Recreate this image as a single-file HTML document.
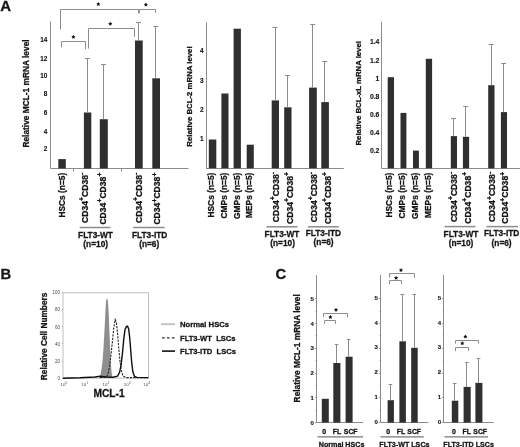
<!DOCTYPE html>
<html><head><meta charset="utf-8"><style>
html,body{margin:0;padding:0;background:#fff;}
svg{display:block;filter:blur(0.35px);}
text{font-family:"Liberation Sans", sans-serif;}
text[font-weight=bold]{stroke:#141414;stroke-width:0.28px;}
text.t{stroke-width:0.12px;}
</style></head><body>
<svg width="520" height="447" viewBox="0 0 520 447">
<rect width="520" height="447" fill="#fff"/>
<text x="0.30" y="11.10" font-size="15" font-weight="bold" text-anchor="start" fill="#141414" >A</text>
<text x="0.60" y="278.60" font-size="14.8" font-weight="bold" text-anchor="start" fill="#141414" >B</text>
<text x="275.60" y="278.60" font-size="14.8" font-weight="bold" text-anchor="start" fill="#141414" >C</text>
<line x1="50.5" y1="21.5" x2="50.5" y2="168.5" stroke="#8c8c8c" stroke-width="1" />
<line x1="50.5" y1="168.5" x2="188.5" y2="168.5" stroke="#8c8c8c" stroke-width="1" />
<line x1="73.5" y1="168.5" x2="73.5" y2="171.5" stroke="#8c8c8c" stroke-width="1" />
<line x1="121.5" y1="168.5" x2="121.5" y2="171.5" stroke="#8c8c8c" stroke-width="1" />
<text x="47.40" y="41.50" font-size="6.4" font-weight="bold" text-anchor="end" fill="#141414" class="t">14</text>
<text x="47.40" y="61.00" font-size="6.4" font-weight="bold" text-anchor="end" fill="#141414" class="t">12</text>
<text x="47.40" y="78.30" font-size="6.4" font-weight="bold" text-anchor="end" fill="#141414" class="t">10</text>
<text x="47.40" y="96.10" font-size="6.4" font-weight="bold" text-anchor="end" fill="#141414" class="t">8</text>
<text x="47.40" y="114.70" font-size="6.4" font-weight="bold" text-anchor="end" fill="#141414" class="t">6</text>
<text x="47.40" y="133.50" font-size="6.4" font-weight="bold" text-anchor="end" fill="#141414" class="t">4</text>
<text x="47.40" y="151.40" font-size="6.4" font-weight="bold" text-anchor="end" fill="#141414" class="t">2</text>
<rect x="58.30" y="159.10" width="7.50" height="9.40" fill="#2f2f2f"/>
<rect x="83.90" y="112.50" width="7.40" height="56.00" fill="#2f2f2f"/>
<line x1="87.5" y1="58.199999999999996" x2="87.5" y2="112.5" stroke="#8c8c8c" stroke-width="1" />
<line x1="84.8" y1="58.5" x2="89.8" y2="58.5" stroke="#8c8c8c" stroke-width="1" />
<rect x="99.80" y="119.20" width="8.00" height="49.30" fill="#2f2f2f"/>
<line x1="103.5" y1="64.1" x2="103.5" y2="119.2" stroke="#8c8c8c" stroke-width="1" />
<line x1="101.0" y1="64.5" x2="106.0" y2="64.5" stroke="#8c8c8c" stroke-width="1" />
<rect x="135.00" y="40.50" width="7.70" height="128.00" fill="#2f2f2f"/>
<line x1="138.5" y1="22.400000000000002" x2="138.5" y2="40.5" stroke="#8c8c8c" stroke-width="1" />
<line x1="136.04999999999998" y1="22.5" x2="141.04999999999998" y2="22.5" stroke="#8c8c8c" stroke-width="1" />
<rect x="152.30" y="78.30" width="7.70" height="90.20" fill="#2f2f2f"/>
<line x1="155.5" y1="26.7" x2="155.5" y2="78.3" stroke="#8c8c8c" stroke-width="1" />
<line x1="153.35" y1="26.5" x2="158.35" y2="26.5" stroke="#8c8c8c" stroke-width="1" />
<polyline points="60.5,29.5 60.5,9.5 138.5,9.5 138.5,13.5" fill="none" stroke="#8c8c8c" stroke-width="1"/>
<polygon points="98.30,2.00 98.95,3.31 100.39,3.52 99.35,4.54 99.59,5.98 98.30,5.30 97.01,5.98 97.25,4.54 96.21,3.52 97.65,3.31" fill="#141414"/>
<polyline points="139.5,12.9 139.5,9.5 155.5,9.5 155.5,12.9" fill="none" stroke="#8c8c8c" stroke-width="1"/>
<polygon points="145.90,2.40 146.55,3.71 147.99,3.92 146.95,4.94 147.19,6.38 145.90,5.70 144.61,6.38 144.85,4.94 143.81,3.92 145.25,3.71" fill="#141414"/>
<polyline points="88.5,48.6 88.5,28.5 134.5,28.5 134.5,36.9" fill="none" stroke="#8c8c8c" stroke-width="1"/>
<polygon points="110.30,21.60 110.95,22.91 112.39,23.12 111.35,24.14 111.59,25.58 110.30,24.90 109.01,25.58 109.25,24.14 108.21,23.12 109.65,22.91" fill="#141414"/>
<polyline points="61.5,47.3 61.5,41.5 85.5,41.5 85.5,49.2" fill="none" stroke="#8c8c8c" stroke-width="1"/>
<polygon points="73.40,34.80 74.05,36.11 75.49,36.32 74.45,37.34 74.69,38.78 73.40,38.10 72.11,38.78 72.35,37.34 71.31,36.32 72.75,36.11" fill="#141414"/>
<text transform="translate(28.80,93.50) rotate(-90)" font-size="8.35" font-weight="bold" text-anchor="middle" fill="#141414">Relative MCL-1 mRNA level</text>
<text transform="translate(64.60,172.80) rotate(-90)" font-size="8.35" font-weight="bold" text-anchor="end" fill="#141414">HSCs (n=5)</text>
<text transform="translate(88.10,172.60) rotate(-90)" font-size="8.6" font-weight="bold" text-anchor="end" fill="#141414">CD34<tspan font-size="6.88" dy="-3.61">+</tspan><tspan dy="3.61">CD38</tspan><tspan font-size="6.88" dy="-3.61">-</tspan></text>
<text transform="translate(105.60,172.60) rotate(-90)" font-size="8.6" font-weight="bold" text-anchor="end" fill="#141414">CD34<tspan font-size="6.88" dy="-3.61">+</tspan><tspan dy="3.61">CD38</tspan><tspan font-size="6.88" dy="-3.61">+</tspan></text>
<text transform="translate(142.00,172.60) rotate(-90)" font-size="8.6" font-weight="bold" text-anchor="end" fill="#141414">CD34<tspan font-size="6.88" dy="-3.61">+</tspan><tspan dy="3.61">CD38</tspan><tspan font-size="6.88" dy="-3.61">-</tspan></text>
<text transform="translate(160.30,172.60) rotate(-90)" font-size="8.6" font-weight="bold" text-anchor="end" fill="#141414">CD34<tspan font-size="6.88" dy="-3.61">+</tspan><tspan dy="3.61">CD38</tspan><tspan font-size="6.88" dy="-3.61">+</tspan></text>
<line x1="79.7" y1="227.5" x2="110.4" y2="227.5" stroke="#8c8c8c" stroke-width="1.5" />
<line x1="133.2" y1="227.5" x2="164.7" y2="227.5" stroke="#8c8c8c" stroke-width="1.5" />
<text x="95.50" y="237.50" font-size="8.3" font-weight="bold" text-anchor="middle" fill="#141414" >FLT3-WT</text>
<text x="95.70" y="246.90" font-size="8.3" font-weight="bold" text-anchor="middle" fill="#141414" >(n=10)</text>
<text x="149.70" y="237.50" font-size="8.3" font-weight="bold" text-anchor="middle" fill="#141414" >FLT3-ITD</text>
<text x="149.20" y="246.90" font-size="8.3" font-weight="bold" text-anchor="middle" fill="#141414" >(n=6)</text>
<line x1="206.5" y1="22.3" x2="206.5" y2="168.3" stroke="#8c8c8c" stroke-width="1" />
<line x1="206" y1="168.5" x2="343.8" y2="168.5" stroke="#8c8c8c" stroke-width="1" />
<text x="203.50" y="141.30" font-size="6.5" font-weight="bold" text-anchor="end" fill="#141414" class="t">1</text>
<text x="203.50" y="112.00" font-size="6.5" font-weight="bold" text-anchor="end" fill="#141414" class="t">2</text>
<text x="203.50" y="82.70" font-size="6.5" font-weight="bold" text-anchor="end" fill="#141414" class="t">3</text>
<text x="203.50" y="53.40" font-size="6.5" font-weight="bold" text-anchor="end" fill="#141414" class="t">4</text>
<rect x="208.80" y="139.50" width="7.50" height="28.80" fill="#2f2f2f"/>
<rect x="221.40" y="93.50" width="7.10" height="74.80" fill="#2f2f2f"/>
<rect x="233.60" y="28.70" width="7.30" height="139.60" fill="#2f2f2f"/>
<rect x="246.70" y="144.70" width="7.10" height="23.60" fill="#2f2f2f"/>
<rect x="271.70" y="100.40" width="7.30" height="67.90" fill="#2f2f2f"/>
<line x1="275.5" y1="27.2" x2="275.5" y2="100.4" stroke="#8c8c8c" stroke-width="1" />
<line x1="272.55" y1="27.5" x2="277.55" y2="27.5" stroke="#8c8c8c" stroke-width="1" />
<rect x="284.20" y="107.30" width="7.30" height="61.00" fill="#2f2f2f"/>
<line x1="287.5" y1="75.0" x2="287.5" y2="107.3" stroke="#8c8c8c" stroke-width="1" />
<line x1="285.05" y1="75.5" x2="290.05" y2="75.5" stroke="#8c8c8c" stroke-width="1" />
<rect x="309.10" y="87.60" width="7.70" height="80.70" fill="#2f2f2f"/>
<line x1="312.5" y1="24.5" x2="312.5" y2="87.6" stroke="#8c8c8c" stroke-width="1" />
<line x1="310.15000000000003" y1="24.5" x2="315.15000000000003" y2="24.5" stroke="#8c8c8c" stroke-width="1" />
<rect x="321.30" y="102.10" width="7.60" height="66.20" fill="#2f2f2f"/>
<line x1="324.5" y1="61.199999999999996" x2="324.5" y2="102.1" stroke="#8c8c8c" stroke-width="1" />
<line x1="322.3" y1="61.5" x2="327.3" y2="61.5" stroke="#8c8c8c" stroke-width="1" />
<text transform="translate(191.60,96.50) rotate(-90)" font-size="7.8" font-weight="bold" text-anchor="middle" fill="#141414">Relative BCL-2 mRNA level</text>
<text transform="translate(213.70,172.60) rotate(-90)" font-size="8.4" font-weight="bold" text-anchor="end" fill="#141414">HSCs (n=5)</text>
<text transform="translate(226.60,172.60) rotate(-90)" font-size="8.4" font-weight="bold" text-anchor="end" fill="#141414">CMPs (n=5)</text>
<text transform="translate(239.70,172.60) rotate(-90)" font-size="8.4" font-weight="bold" text-anchor="end" fill="#141414">GMPs (n=5)</text>
<text transform="translate(251.80,172.60) rotate(-90)" font-size="8.4" font-weight="bold" text-anchor="end" fill="#141414">MEPs (n=5)</text>
<text transform="translate(278.70,172.00) rotate(-90)" font-size="8.6" font-weight="bold" text-anchor="end" fill="#141414">CD34<tspan font-size="6.88" dy="-3.61">+</tspan><tspan dy="3.61">CD38</tspan><tspan font-size="6.88" dy="-3.61">-</tspan></text>
<text transform="translate(292.90,172.00) rotate(-90)" font-size="8.6" font-weight="bold" text-anchor="end" fill="#141414">CD34<tspan font-size="6.88" dy="-3.61">+</tspan><tspan dy="3.61">CD38</tspan><tspan font-size="6.88" dy="-3.61">+</tspan></text>
<text transform="translate(317.10,172.00) rotate(-90)" font-size="8.6" font-weight="bold" text-anchor="end" fill="#141414">CD34<tspan font-size="6.88" dy="-3.61">+</tspan><tspan dy="3.61">CD38</tspan><tspan font-size="6.88" dy="-3.61">-</tspan></text>
<text transform="translate(330.60,172.00) rotate(-90)" font-size="8.6" font-weight="bold" text-anchor="end" fill="#141414">CD34<tspan font-size="6.88" dy="-3.61">+</tspan><tspan dy="3.61">CD38</tspan><tspan font-size="6.88" dy="-3.61">+</tspan></text>
<line x1="266.5" y1="226.8" x2="297.5" y2="226.8" stroke="#8c8c8c" stroke-width="1.5" />
<line x1="308" y1="226.8" x2="338.8" y2="226.8" stroke="#8c8c8c" stroke-width="1.5" />
<text x="282.00" y="237.00" font-size="8.3" font-weight="bold" text-anchor="middle" fill="#141414" >FLT3-WT</text>
<text x="282.60" y="245.60" font-size="8.3" font-weight="bold" text-anchor="middle" fill="#141414" >(n=10)</text>
<text x="323.40" y="236.30" font-size="8.3" font-weight="bold" text-anchor="middle" fill="#141414" >FLT3-ITD</text>
<text x="323.60" y="245.20" font-size="8.3" font-weight="bold" text-anchor="middle" fill="#141414" >(n=6)</text>
<line x1="381.5" y1="21.7" x2="381.5" y2="168.3" stroke="#8c8c8c" stroke-width="1" />
<line x1="381.4" y1="168.5" x2="520" y2="168.5" stroke="#8c8c8c" stroke-width="1" />
<text x="379.40" y="152.84" font-size="6.8" font-weight="bold" text-anchor="end" fill="#141414" class="t">0.2</text>
<text x="379.40" y="134.78" font-size="6.8" font-weight="bold" text-anchor="end" fill="#141414" class="t">0.4</text>
<text x="379.40" y="116.72" font-size="6.8" font-weight="bold" text-anchor="end" fill="#141414" class="t">0.6</text>
<text x="379.40" y="98.66" font-size="6.8" font-weight="bold" text-anchor="end" fill="#141414" class="t">0.8</text>
<text x="379.40" y="80.60" font-size="6.8" font-weight="bold" text-anchor="end" fill="#141414" class="t">1</text>
<text x="379.40" y="62.54" font-size="6.8" font-weight="bold" text-anchor="end" fill="#141414" class="t">1.2</text>
<text x="379.40" y="44.48" font-size="6.8" font-weight="bold" text-anchor="end" fill="#141414" class="t">1.4</text>
<rect x="387.70" y="77.20" width="6.30" height="91.10" fill="#2f2f2f"/>
<rect x="400.50" y="112.90" width="5.90" height="55.40" fill="#2f2f2f"/>
<rect x="413.00" y="150.60" width="5.90" height="17.70" fill="#2f2f2f"/>
<rect x="425.80" y="58.80" width="6.30" height="109.50" fill="#2f2f2f"/>
<rect x="450.80" y="136.10" width="6.20" height="32.20" fill="#2f2f2f"/>
<line x1="453.5" y1="118.3" x2="453.5" y2="136.1" stroke="#8c8c8c" stroke-width="1" />
<line x1="451.09999999999997" y1="118.5" x2="456.09999999999997" y2="118.5" stroke="#8c8c8c" stroke-width="1" />
<rect x="462.90" y="136.80" width="6.20" height="31.50" fill="#2f2f2f"/>
<line x1="465.5" y1="106.89999999999999" x2="465.5" y2="136.8" stroke="#8c8c8c" stroke-width="1" />
<line x1="463.2" y1="106.5" x2="468.2" y2="106.5" stroke="#8c8c8c" stroke-width="1" />
<rect x="488.20" y="85.20" width="6.30" height="83.10" fill="#2f2f2f"/>
<line x1="491.5" y1="44.0" x2="491.5" y2="85.2" stroke="#8c8c8c" stroke-width="1" />
<line x1="488.55" y1="44.5" x2="493.55" y2="44.5" stroke="#8c8c8c" stroke-width="1" />
<rect x="500.90" y="112.10" width="6.10" height="56.20" fill="#2f2f2f"/>
<line x1="503.5" y1="63.9" x2="503.5" y2="112.1" stroke="#8c8c8c" stroke-width="1" />
<line x1="501.15" y1="63.5" x2="506.15" y2="63.5" stroke="#8c8c8c" stroke-width="1" />
<text transform="translate(360.80,93.30) rotate(-90)" font-size="7.77" font-weight="bold" text-anchor="middle" fill="#141414">Relative BCL-xL mRNA level</text>
<text transform="translate(392.20,172.60) rotate(-90)" font-size="8.4" font-weight="bold" text-anchor="end" fill="#141414">HSCs (n=5)</text>
<text transform="translate(405.10,172.60) rotate(-90)" font-size="8.4" font-weight="bold" text-anchor="end" fill="#141414">CMPs (n=5)</text>
<text transform="translate(417.80,172.60) rotate(-90)" font-size="8.4" font-weight="bold" text-anchor="end" fill="#141414">GMPs (n=5)</text>
<text transform="translate(430.50,172.60) rotate(-90)" font-size="8.4" font-weight="bold" text-anchor="end" fill="#141414">MEPs (n=5)</text>
<text transform="translate(457.00,171.80) rotate(-90)" font-size="8.6" font-weight="bold" text-anchor="end" fill="#141414">CD34<tspan font-size="6.88" dy="-3.61">+</tspan><tspan dy="3.61">CD38</tspan><tspan font-size="6.88" dy="-3.61">-</tspan></text>
<text transform="translate(470.70,171.80) rotate(-90)" font-size="8.6" font-weight="bold" text-anchor="end" fill="#141414">CD34<tspan font-size="6.88" dy="-3.61">+</tspan><tspan dy="3.61">CD38</tspan><tspan font-size="6.88" dy="-3.61">+</tspan></text>
<text transform="translate(495.40,171.80) rotate(-90)" font-size="8.6" font-weight="bold" text-anchor="end" fill="#141414">CD34<tspan font-size="6.88" dy="-3.61">+</tspan><tspan dy="3.61">CD38</tspan><tspan font-size="6.88" dy="-3.61">-</tspan></text>
<text transform="translate(508.30,171.80) rotate(-90)" font-size="8.6" font-weight="bold" text-anchor="end" fill="#141414">CD34<tspan font-size="6.88" dy="-3.61">+</tspan><tspan dy="3.61">CD38</tspan><tspan font-size="6.88" dy="-3.61">+</tspan></text>
<line x1="444.5" y1="226.6" x2="475.5" y2="226.6" stroke="#8c8c8c" stroke-width="1.5" />
<line x1="486.5" y1="226.6" x2="518" y2="226.6" stroke="#8c8c8c" stroke-width="1.5" />
<text x="461.00" y="237.00" font-size="8.3" font-weight="bold" text-anchor="middle" fill="#141414" >FLT3-WT</text>
<text x="461.00" y="246.00" font-size="8.3" font-weight="bold" text-anchor="middle" fill="#141414" >(n=10)</text>
<text x="501.70" y="236.20" font-size="8.3" font-weight="bold" text-anchor="middle" fill="#141414" >FLT3-ITD</text>
<text x="501.60" y="245.50" font-size="8.3" font-weight="bold" text-anchor="middle" fill="#141414" >(n=6)</text>
<rect x="63.0" y="292.8" width="85.4" height="85.30000000000001" fill="none" stroke="#b0b0b0" stroke-width="0.8"/>
<text x="60.00" y="294.40" font-size="4.5" font-weight="normal" text-anchor="end" fill="#4a4a4a" >100</text>
<line x1="61.8" y1="292.5" x2="63.0" y2="292.5" stroke="#888" stroke-width="0.6" />
<text x="60.00" y="311.46" font-size="4.5" font-weight="normal" text-anchor="end" fill="#4a4a4a" >80</text>
<line x1="61.8" y1="309.5" x2="63.0" y2="309.5" stroke="#888" stroke-width="0.6" />
<text x="60.00" y="328.52" font-size="4.5" font-weight="normal" text-anchor="end" fill="#4a4a4a" >60</text>
<line x1="61.8" y1="326.5" x2="63.0" y2="326.5" stroke="#888" stroke-width="0.6" />
<text x="60.00" y="345.58" font-size="4.5" font-weight="normal" text-anchor="end" fill="#4a4a4a" >40</text>
<line x1="61.8" y1="343.5" x2="63.0" y2="343.5" stroke="#888" stroke-width="0.6" />
<text x="60.00" y="362.64" font-size="4.5" font-weight="normal" text-anchor="end" fill="#4a4a4a" >20</text>
<line x1="61.8" y1="361.5" x2="63.0" y2="361.5" stroke="#888" stroke-width="0.6" />
<text x="60.00" y="379.70" font-size="4.5" font-weight="normal" text-anchor="end" fill="#4a4a4a" >0</text>
<line x1="61.8" y1="378.5" x2="63.0" y2="378.5" stroke="#888" stroke-width="0.6" />
<text x="63.90" y="385.60" font-size="4.4" font-weight="normal" text-anchor="middle" fill="#4a4a4a" >10<tspan font-size="3.2" dy="-1.9">0</tspan></text>
<text x="84.70" y="385.60" font-size="4.4" font-weight="normal" text-anchor="middle" fill="#4a4a4a" >10<tspan font-size="3.2" dy="-1.9">1</tspan></text>
<text x="105.90" y="385.60" font-size="4.4" font-weight="normal" text-anchor="middle" fill="#4a4a4a" >10<tspan font-size="3.2" dy="-1.9">2</tspan></text>
<text x="127.20" y="385.60" font-size="4.4" font-weight="normal" text-anchor="middle" fill="#4a4a4a" >10<tspan font-size="3.2" dy="-1.9">3</tspan></text>
<text x="146.60" y="385.60" font-size="4.4" font-weight="normal" text-anchor="middle" fill="#4a4a4a" >10<tspan font-size="3.2" dy="-1.9">4</tspan></text>
<g transform="translate(0,0.6)">
<path d="M99.6,377.4 L101.0,372 L102.4,362 L103.6,346 L104.8,324 L105.7,305 L106.2,299.5 L106.8,297.8 L107.5,298.6 L108.1,303 L108.7,313 L109.3,328 L109.9,343 L110.6,358 L111.4,370 L112.4,377.4 Z" fill="#8e8e8e"/>
<path d="M100,377 L106,376.5 L108,374 L109.5,366 L111,354 L112.5,340 L113.8,327 L115.2,319 L116.4,322 L117.6,333 L118.8,348 L120.0,361 L121.3,370 L123,375.5 L126,377 L148,377" fill="none" stroke="#222" stroke-width="1.1" stroke-dasharray="2.2,1.2"/>
<path d="M63,377.6 L80,377.2 L95,376.4 L100,375.6 L106,376.4 L113,376.6 L117.5,375.5 L119.5,372 L121,365 L122.5,352 L123.8,338 L125.0,329 L126.3,326 L127.5,325.6 L128.6,328 L129.6,336 L130.6,348 L131.6,361 L132.8,371 L134.5,375.8 L137,376.8 L148.4,377" fill="none" stroke="#111" stroke-width="1.4"/>
</g>
<text transform="translate(46.80,336.40) rotate(-90)" font-size="8.3" font-weight="bold" text-anchor="middle" fill="#141414">Relative Cell Numbers</text>
<text x="109.10" y="397.00" font-size="10.2" font-weight="bold" text-anchor="middle" fill="#141414" >MCL-1</text>
<line x1="161.2" y1="324.2" x2="175.0" y2="324.2" stroke="#bcbcbc" stroke-width="1.8" />
<line x1="162.0" y1="337.8" x2="175.0" y2="337.8" stroke="#333" stroke-width="1.3" stroke-dasharray="2.7,2.2"/>
<line x1="162.0" y1="351.1" x2="175.0" y2="351.1" stroke="#111" stroke-width="1.6" />
<text x="180.00" y="326.90" font-size="7.7" font-weight="bold" text-anchor="start" fill="#141414" >Normal HSCs</text>
<text x="180.00" y="340.90" font-size="7.6" font-weight="bold" text-anchor="start" fill="#141414" >FLT3-WT&#160; LSCs</text>
<text x="180.00" y="353.90" font-size="7.6" font-weight="bold" text-anchor="start" fill="#141414" >FLT3-ITD&#160; LSCs</text>
<line x1="316.5" y1="275.2" x2="316.5" y2="422.6" stroke="#8c8c8c" stroke-width="1" />
<line x1="316.3" y1="422.5" x2="363" y2="422.5" stroke="#8c8c8c" stroke-width="1" />
<text x="313.80" y="424.70" font-size="6.0" font-weight="bold" text-anchor="end" fill="#141414" class="t">0</text>
<line x1="314.8" y1="422.5" x2="316.3" y2="422.5" stroke="#8c8c8c" stroke-width="0.8" />
<line x1="315.3" y1="410.5" x2="316.3" y2="410.5" stroke="#8c8c8c" stroke-width="0.6" />
<text x="313.80" y="399.90" font-size="6.0" font-weight="bold" text-anchor="end" fill="#141414" class="t">1</text>
<line x1="314.8" y1="397.5" x2="316.3" y2="397.5" stroke="#8c8c8c" stroke-width="0.8" />
<line x1="315.3" y1="385.5" x2="316.3" y2="385.5" stroke="#8c8c8c" stroke-width="0.6" />
<text x="313.80" y="375.10" font-size="6.0" font-weight="bold" text-anchor="end" fill="#141414" class="t">2</text>
<line x1="314.8" y1="373.5" x2="316.3" y2="373.5" stroke="#8c8c8c" stroke-width="0.8" />
<line x1="315.3" y1="360.5" x2="316.3" y2="360.5" stroke="#8c8c8c" stroke-width="0.6" />
<text x="313.80" y="350.30" font-size="6.0" font-weight="bold" text-anchor="end" fill="#141414" class="t">3</text>
<line x1="314.8" y1="348.5" x2="316.3" y2="348.5" stroke="#8c8c8c" stroke-width="0.8" />
<line x1="315.3" y1="335.5" x2="316.3" y2="335.5" stroke="#8c8c8c" stroke-width="0.6" />
<text x="313.80" y="325.50" font-size="6.0" font-weight="bold" text-anchor="end" fill="#141414" class="t">4</text>
<line x1="314.8" y1="323.5" x2="316.3" y2="323.5" stroke="#8c8c8c" stroke-width="0.8" />
<line x1="315.3" y1="311.5" x2="316.3" y2="311.5" stroke="#8c8c8c" stroke-width="0.6" />
<text x="313.80" y="300.70" font-size="6.0" font-weight="bold" text-anchor="end" fill="#141414" class="t">5</text>
<line x1="314.8" y1="298.5" x2="316.3" y2="298.5" stroke="#8c8c8c" stroke-width="0.8" />
<rect x="321.80" y="398.80" width="7.00" height="23.80" fill="#2f2f2f"/>
<rect x="333.30" y="363.00" width="7.10" height="59.60" fill="#2f2f2f"/>
<line x1="336.5" y1="344.7" x2="336.5" y2="363.0" stroke="#8c8c8c" stroke-width="1" />
<line x1="334.75" y1="344.5" x2="338.35" y2="344.5" stroke="#8c8c8c" stroke-width="1" />
<rect x="345.60" y="356.70" width="7.00" height="65.90" fill="#2f2f2f"/>
<line x1="348.5" y1="339.3" x2="348.5" y2="356.7" stroke="#8c8c8c" stroke-width="1" />
<line x1="347.0" y1="339.5" x2="350.6" y2="339.5" stroke="#8c8c8c" stroke-width="1" />
<polyline points="323.5,317.2 323.5,313.5 347.5,313.5 347.5,317.2" fill="none" stroke="#8c8c8c" stroke-width="1"/>
<polygon points="336.00,307.70 336.65,309.01 338.09,309.22 337.05,310.24 337.29,311.68 336.00,311.00 334.71,311.68 334.95,310.24 333.91,309.22 335.35,309.01" fill="#141414"/>
<polyline points="324.5,323.9 324.5,320.5 335.5,320.5 335.5,323.9" fill="none" stroke="#8c8c8c" stroke-width="1"/>
<polygon points="330.40,315.00 331.05,316.31 332.49,316.52 331.45,317.54 331.69,318.98 330.40,318.30 329.11,318.98 329.35,317.54 328.31,316.52 329.75,316.31" fill="#141414"/>
<text x="324.20" y="434.10" font-size="6.9" font-weight="bold" text-anchor="middle" fill="#141414" >0</text>
<text x="336.90" y="434.10" font-size="6.9" font-weight="bold" text-anchor="middle" fill="#141414" >FL</text>
<text x="350.70" y="434.10" font-size="6.9" font-weight="bold" text-anchor="middle" fill="#141414" >SCF</text>
<line x1="317.5" y1="436.9" x2="363.1" y2="436.9" stroke="#777" stroke-width="1.1" />
<text x="341.60" y="447.30" font-size="7.15" font-weight="bold" text-anchor="middle" fill="#141414" >Normal HSCs</text>
<line x1="380.5" y1="274.9" x2="380.5" y2="422.6" stroke="#8c8c8c" stroke-width="1" />
<line x1="380.4" y1="422.5" x2="428.5" y2="422.5" stroke="#8c8c8c" stroke-width="1" />
<text x="377.80" y="423.80" font-size="6.0" font-weight="bold" text-anchor="end" fill="#141414" class="t">0</text>
<line x1="378.9" y1="422.5" x2="380.4" y2="422.5" stroke="#8c8c8c" stroke-width="0.8" />
<line x1="379.4" y1="410.5" x2="380.4" y2="410.5" stroke="#8c8c8c" stroke-width="0.6" />
<text x="377.80" y="399.00" font-size="6.0" font-weight="bold" text-anchor="end" fill="#141414" class="t">1</text>
<line x1="378.9" y1="397.5" x2="380.4" y2="397.5" stroke="#8c8c8c" stroke-width="0.8" />
<line x1="379.4" y1="385.5" x2="380.4" y2="385.5" stroke="#8c8c8c" stroke-width="0.6" />
<text x="377.80" y="374.20" font-size="6.0" font-weight="bold" text-anchor="end" fill="#141414" class="t">2</text>
<line x1="378.9" y1="373.5" x2="380.4" y2="373.5" stroke="#8c8c8c" stroke-width="0.8" />
<line x1="379.4" y1="360.5" x2="380.4" y2="360.5" stroke="#8c8c8c" stroke-width="0.6" />
<text x="377.80" y="349.40" font-size="6.0" font-weight="bold" text-anchor="end" fill="#141414" class="t">3</text>
<line x1="378.9" y1="348.5" x2="380.4" y2="348.5" stroke="#8c8c8c" stroke-width="0.8" />
<line x1="379.4" y1="335.5" x2="380.4" y2="335.5" stroke="#8c8c8c" stroke-width="0.6" />
<text x="377.80" y="324.60" font-size="6.0" font-weight="bold" text-anchor="end" fill="#141414" class="t">4</text>
<line x1="378.9" y1="323.5" x2="380.4" y2="323.5" stroke="#8c8c8c" stroke-width="0.8" />
<line x1="379.4" y1="311.5" x2="380.4" y2="311.5" stroke="#8c8c8c" stroke-width="0.6" />
<text x="377.80" y="299.80" font-size="6.0" font-weight="bold" text-anchor="end" fill="#141414" class="t">5</text>
<line x1="378.9" y1="298.5" x2="380.4" y2="298.5" stroke="#8c8c8c" stroke-width="0.8" />
<rect x="387.60" y="400.20" width="6.30" height="22.40" fill="#2f2f2f"/>
<line x1="390.5" y1="384.8" x2="390.5" y2="400.2" stroke="#8c8c8c" stroke-width="1" />
<line x1="388.65" y1="384.5" x2="392.25" y2="384.5" stroke="#8c8c8c" stroke-width="1" />
<rect x="399.40" y="341.30" width="6.50" height="81.30" fill="#2f2f2f"/>
<line x1="402.5" y1="294.3" x2="402.5" y2="341.3" stroke="#8c8c8c" stroke-width="1" />
<line x1="400.54999999999995" y1="294.5" x2="404.15" y2="294.5" stroke="#8c8c8c" stroke-width="1" />
<rect x="411.20" y="347.80" width="6.50" height="74.80" fill="#2f2f2f"/>
<line x1="414.5" y1="294.3" x2="414.5" y2="347.8" stroke="#8c8c8c" stroke-width="1" />
<line x1="412.34999999999997" y1="294.5" x2="415.95" y2="294.5" stroke="#8c8c8c" stroke-width="1" />
<polyline points="389.5,277.5 389.5,273.5 414.5,273.5 414.5,277.5" fill="none" stroke="#8c8c8c" stroke-width="1"/>
<polygon points="401.00,268.00 401.65,269.31 403.09,269.52 402.05,270.54 402.29,271.98 401.00,271.30 399.71,271.98 399.95,270.54 398.91,269.52 400.35,269.31" fill="#141414"/>
<polyline points="389.5,284.3 389.5,280.5 401.5,280.5 401.5,284.3" fill="none" stroke="#8c8c8c" stroke-width="1"/>
<polygon points="396.10,275.80 396.75,277.11 398.19,277.32 397.15,278.34 397.39,279.78 396.10,279.10 394.81,279.78 395.05,278.34 394.01,277.32 395.45,277.11" fill="#141414"/>
<text x="388.10" y="434.10" font-size="6.9" font-weight="bold" text-anchor="middle" fill="#141414" >0</text>
<text x="400.90" y="434.10" font-size="6.9" font-weight="bold" text-anchor="middle" fill="#141414" >FL</text>
<text x="414.20" y="434.10" font-size="6.9" font-weight="bold" text-anchor="middle" fill="#141414" >SCF</text>
<line x1="380.5" y1="436.9" x2="423.8" y2="436.9" stroke="#777" stroke-width="1.1" />
<text x="404.40" y="447.30" font-size="7.15" font-weight="bold" text-anchor="middle" fill="#141414" >FLT3-WT LSCs</text>
<line x1="443.5" y1="274.9" x2="443.5" y2="422.6" stroke="#8c8c8c" stroke-width="1" />
<line x1="443.6" y1="422.5" x2="493.8" y2="422.5" stroke="#8c8c8c" stroke-width="1" />
<text x="441.00" y="423.80" font-size="6.0" font-weight="bold" text-anchor="end" fill="#141414" class="t">0</text>
<line x1="442.1" y1="422.5" x2="443.6" y2="422.5" stroke="#8c8c8c" stroke-width="0.8" />
<line x1="442.6" y1="410.5" x2="443.6" y2="410.5" stroke="#8c8c8c" stroke-width="0.6" />
<text x="441.00" y="399.00" font-size="6.0" font-weight="bold" text-anchor="end" fill="#141414" class="t">1</text>
<line x1="442.1" y1="397.5" x2="443.6" y2="397.5" stroke="#8c8c8c" stroke-width="0.8" />
<line x1="442.6" y1="385.5" x2="443.6" y2="385.5" stroke="#8c8c8c" stroke-width="0.6" />
<text x="441.00" y="374.20" font-size="6.0" font-weight="bold" text-anchor="end" fill="#141414" class="t">2</text>
<line x1="442.1" y1="373.5" x2="443.6" y2="373.5" stroke="#8c8c8c" stroke-width="0.8" />
<line x1="442.6" y1="360.5" x2="443.6" y2="360.5" stroke="#8c8c8c" stroke-width="0.6" />
<text x="441.00" y="349.40" font-size="6.0" font-weight="bold" text-anchor="end" fill="#141414" class="t">3</text>
<line x1="442.1" y1="348.5" x2="443.6" y2="348.5" stroke="#8c8c8c" stroke-width="0.8" />
<line x1="442.6" y1="335.5" x2="443.6" y2="335.5" stroke="#8c8c8c" stroke-width="0.6" />
<text x="441.00" y="324.60" font-size="6.0" font-weight="bold" text-anchor="end" fill="#141414" class="t">4</text>
<line x1="442.1" y1="323.5" x2="443.6" y2="323.5" stroke="#8c8c8c" stroke-width="0.8" />
<line x1="442.6" y1="311.5" x2="443.6" y2="311.5" stroke="#8c8c8c" stroke-width="0.6" />
<text x="441.00" y="299.80" font-size="6.0" font-weight="bold" text-anchor="end" fill="#141414" class="t">5</text>
<line x1="442.1" y1="298.5" x2="443.6" y2="298.5" stroke="#8c8c8c" stroke-width="0.8" />
<rect x="451.80" y="400.70" width="6.50" height="21.90" fill="#2f2f2f"/>
<line x1="454.5" y1="383.2" x2="454.5" y2="400.7" stroke="#8c8c8c" stroke-width="1" />
<line x1="452.95" y1="383.5" x2="456.55" y2="383.5" stroke="#8c8c8c" stroke-width="1" />
<rect x="463.60" y="386.90" width="7.10" height="35.70" fill="#2f2f2f"/>
<line x1="466.5" y1="362.3" x2="466.5" y2="386.9" stroke="#8c8c8c" stroke-width="1" />
<line x1="465.04999999999995" y1="362.5" x2="468.65" y2="362.5" stroke="#8c8c8c" stroke-width="1" />
<rect x="475.40" y="382.90" width="7.00" height="39.70" fill="#2f2f2f"/>
<line x1="478.5" y1="358.3" x2="478.5" y2="382.9" stroke="#8c8c8c" stroke-width="1" />
<line x1="476.79999999999995" y1="358.5" x2="480.4" y2="358.5" stroke="#8c8c8c" stroke-width="1" />
<polyline points="455.5,343.6 455.5,340.5 478.5,340.5 478.5,343.6" fill="none" stroke="#8c8c8c" stroke-width="1"/>
<polygon points="465.40,334.50 466.05,335.81 467.49,336.02 466.45,337.04 466.69,338.48 465.40,337.80 464.11,338.48 464.35,337.04 463.31,336.02 464.75,335.81" fill="#141414"/>
<polyline points="455.5,351.0 455.5,347.5 468.5,347.5 468.5,351.0" fill="none" stroke="#8c8c8c" stroke-width="1"/>
<polygon points="462.30,341.10 462.95,342.41 464.39,342.62 463.35,343.64 463.59,345.08 462.30,344.40 461.01,345.08 461.25,343.64 460.21,342.62 461.65,342.41" fill="#141414"/>
<text x="453.80" y="434.10" font-size="6.9" font-weight="bold" text-anchor="middle" fill="#141414" >0</text>
<text x="466.70" y="434.10" font-size="6.9" font-weight="bold" text-anchor="middle" fill="#141414" >FL</text>
<text x="480.20" y="434.10" font-size="6.9" font-weight="bold" text-anchor="middle" fill="#141414" >SCF</text>
<line x1="444.5" y1="436.9" x2="488.0" y2="436.9" stroke="#777" stroke-width="1.1" />
<text x="468.60" y="447.30" font-size="7.15" font-weight="bold" text-anchor="middle" fill="#141414" >FLT3-ITD LSCs</text>
<text transform="translate(299.50,348.30) rotate(-90)" font-size="8.35" font-weight="bold" text-anchor="middle" fill="#141414">Relative MCL-1 mRNA level</text>
</svg>
</body></html>
